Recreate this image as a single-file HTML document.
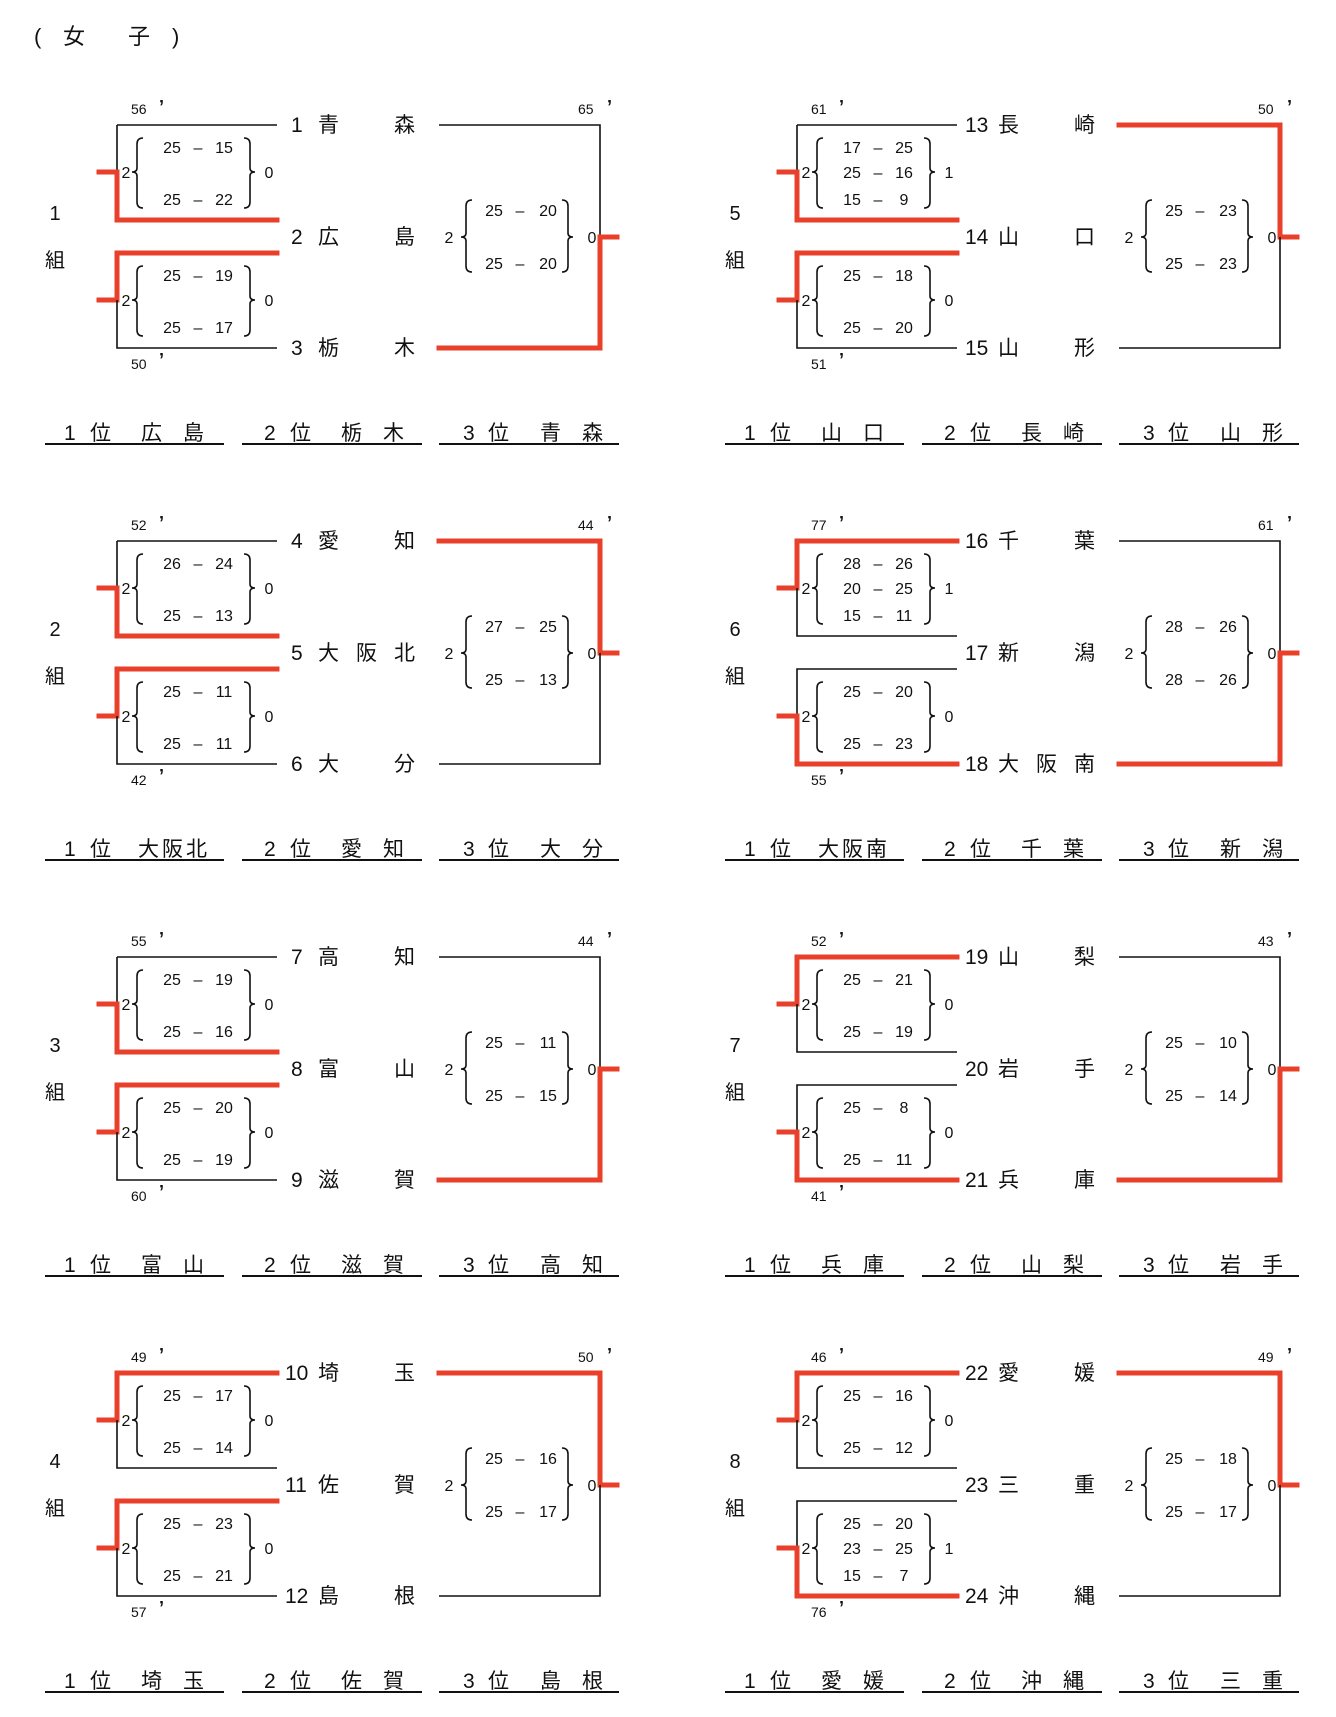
<!DOCTYPE html>
<html><head><meta charset="utf-8">
<style>
html,body{margin:0;padding:0;background:#fff;}
svg{display:block;}
text{font-family:"Liberation Sans","Noto Sans CJK JP",sans-serif;fill:#111;}
.k{stroke:#111;stroke-width:1.6;fill:none;}
.r{stroke:#e8402a;stroke-width:5;fill:none;stroke-linecap:square;}
.b{stroke:#111;stroke-width:1.6;fill:none;}
.n{font-size:21px;}
.s{font-size:16px;}
.t{font-size:14px;}
.a{font-size:18px;font-weight:bold;}
.g{font-size:20px;}
.u{stroke:#111;stroke-width:2;}
.q{font-size:21px;letter-spacing:21px;}
</style></head><body>
<svg width="1336" height="1717" viewBox="0 0 1336 1717" xmlns="http://www.w3.org/2000/svg">
<text x="34" y="44" style="font-size:22px">(</text>
<text x="63" y="44" style="font-size:22px">女</text>
<text x="128" y="44" style="font-size:22px">子</text>
<text x="172" y="44" style="font-size:22px">)</text>

<defs>
<g id="br2">
<path class="b" d="M143,138 Q137,138 137,144 L137,168 Q137,172 132,172 Q137,172 137,176 L137,202 Q137,208 143,208"/>
<path class="b" d="M244,138 Q250,138 250,144 L250,168 Q250,172 255,172 Q250,172 250,176 L250,202 Q250,208 244,208"/>
</g>
<g id="br2b">
<path class="b" d="M143,266 Q137,266 137,272 L137,296 Q137,300 132,300 Q137,300 137,304 L137,330 Q137,336 143,336"/>
<path class="b" d="M244,266 Q250,266 250,272 L250,296 Q250,300 255,300 Q250,300 250,304 L250,330 Q250,336 244,336"/>
</g>
<g id="brf">
<path class="b" d="M472,200 Q466,200 466,206 L466,233 Q466,237 461,237 Q466,237 466,241 L466,266 Q466,272 472,272"/>
<path class="b" d="M562,200 Q568,200 568,206 L568,233 Q568,237 573,237 Q568,237 568,241 L568,266 Q568,272 562,272"/>
</g>
<g id="base">
<use href="#br2"/><use href="#br2b"/><use href="#brf"/>
<path class="r" d="M99,172 H117"/><path class="r" d="M99,300 H117"/><path class="r" d="M600,237 H617"/>
<line class="u" x1="45" y1="444" x2="224" y2="444"/>
<line class="u" x1="242" y1="444" x2="422" y2="444"/>
<line class="u" x1="439" y1="444" x2="619" y2="444"/>
<text class="s" x="126" y="178" text-anchor="middle">2</text>
<text class="s" x="126" y="306" text-anchor="middle">2</text>
<text class="s" x="449" y="243" text-anchor="middle">2</text>
<text class="s" x="592" y="243" text-anchor="middle">0</text>
<text class="s" x="198" y="153" text-anchor="middle">–</text>
<text class="s" x="198" y="205" text-anchor="middle">–</text>
<text class="s" x="198" y="281" text-anchor="middle">–</text>
<text class="s" x="198" y="333" text-anchor="middle">–</text>
<text class="s" x="520" y="216" text-anchor="middle">–</text>
<text class="s" x="520" y="269" text-anchor="middle">–</text>
<text class="g" x="55" y="267" text-anchor="middle">組</text>
<text class="n" x="64" y="440">1</text><text class="n" x="90" y="440">位</text>
<text class="n" x="264" y="440">2</text><text class="n" x="290" y="440">位</text>
<text class="n" x="463" y="440">3</text><text class="n" x="488" y="440">位</text>
<text class="a" x="159" y="113">’</text><text class="a" x="159" y="366">’</text><text class="a" x="607" y="113">’</text>
</g>
</defs>

<!-- Block 1 -->
<g>
<use href="#base"/>
<text class="g" x="55" y="220" text-anchor="middle">1</text>
<path class="k" d="M117,125 H277"/><path class="k" d="M117,125 V172"/>
<path class="r" d="M117,172 V220 H277"/>
<path class="r" d="M277,253 H117 V300"/>
<path class="k" d="M117,300 V348 H277"/>
<path class="k" d="M439,125 H600 V237"/><path class="r" d="M600,237 V348 H439"/>
<text class="t" x="131" y="114">56</text><text class="t" x="131" y="369">50</text><text class="t" x="578" y="114">65</text>
<text class="n" x="291" y="132">1</text><text class="n" x="318" y="132" letter-spacing="55">青森</text>
<text class="n" x="291" y="244">2</text><text class="n" x="318" y="244" letter-spacing="55">広島</text>
<text class="n" x="291" y="355">3</text><text class="n" x="318" y="355" letter-spacing="55">栃木</text>
<text class="s" x="172" y="153" text-anchor="middle">25</text><text class="s" x="224" y="153" text-anchor="middle">15</text>
<text class="s" x="172" y="205" text-anchor="middle">25</text><text class="s" x="224" y="205" text-anchor="middle">22</text>
<text class="s" x="269" y="178" text-anchor="middle">0</text>
<text class="s" x="269" y="306" text-anchor="middle">0</text>
<text class="s" x="172" y="281" text-anchor="middle">25</text><text class="s" x="224" y="281" text-anchor="middle">19</text>
<text class="s" x="172" y="333" text-anchor="middle">25</text><text class="s" x="224" y="333" text-anchor="middle">17</text>
<text class="s" x="494" y="216" text-anchor="middle">25</text><text class="s" x="548" y="216" text-anchor="middle">20</text>
<text class="s" x="494" y="269" text-anchor="middle">25</text><text class="s" x="548" y="269" text-anchor="middle">20</text>
<text class="q" x="141" y="440">広島</text>
<text class="q" x="341" y="440">栃木</text>
<text class="q" x="540" y="440">青森</text>
</g>

<!-- Block 2 -->
<g transform="translate(0,416)">
<use href="#base"/>
<text class="g" x="55" y="220" text-anchor="middle">2</text>
<path class="k" d="M117,125 H277"/><path class="k" d="M117,125 V172"/>
<path class="r" d="M117,172 V220 H277"/>
<path class="r" d="M277,253 H117 V300"/>
<path class="k" d="M117,300 V348 H277"/>
<path class="r" d="M439,125 H600 V237"/><path class="k" d="M600,237 V348 H439"/>
<text class="t" x="131" y="114">52</text><text class="t" x="131" y="369">42</text><text class="t" x="578" y="114">44</text>
<text class="n" x="291" y="132">4</text><text class="n" x="318" y="132" letter-spacing="55">愛知</text>
<text class="n" x="291" y="244">5</text><text class="n" x="318" y="244" letter-spacing="17">大阪北</text>
<text class="n" x="291" y="355">6</text><text class="n" x="318" y="355" letter-spacing="55">大分</text>
<text class="s" x="172" y="153" text-anchor="middle">26</text><text class="s" x="224" y="153" text-anchor="middle">24</text>
<text class="s" x="172" y="205" text-anchor="middle">25</text><text class="s" x="224" y="205" text-anchor="middle">13</text>
<text class="s" x="269" y="178" text-anchor="middle">0</text>
<text class="s" x="269" y="306" text-anchor="middle">0</text>
<text class="s" x="172" y="281" text-anchor="middle">25</text><text class="s" x="224" y="281" text-anchor="middle">11</text>
<text class="s" x="172" y="333" text-anchor="middle">25</text><text class="s" x="224" y="333" text-anchor="middle">11</text>
<text class="s" x="494" y="216" text-anchor="middle">27</text><text class="s" x="548" y="216" text-anchor="middle">25</text>
<text class="s" x="494" y="269" text-anchor="middle">25</text><text class="s" x="548" y="269" text-anchor="middle">13</text>
<text class="n" x="138" y="440" letter-spacing="3">大阪北</text>
<text class="q" x="341" y="440">愛知</text>
<text class="q" x="540" y="440">大分</text>
</g>

<!-- Block 3 -->
<g transform="translate(0,832)">
<use href="#base"/>
<text class="g" x="55" y="220" text-anchor="middle">3</text>
<path class="k" d="M117,125 H277"/><path class="k" d="M117,125 V172"/>
<path class="r" d="M117,172 V220 H277"/>
<path class="r" d="M277,253 H117 V300"/>
<path class="k" d="M117,300 V348 H277"/>
<path class="k" d="M439,125 H600 V237"/><path class="r" d="M600,237 V348 H439"/>
<text class="t" x="131" y="114">55</text><text class="t" x="131" y="369">60</text><text class="t" x="578" y="114">44</text>
<text class="n" x="291" y="132">7</text><text class="n" x="318" y="132" letter-spacing="55">高知</text>
<text class="n" x="291" y="244">8</text><text class="n" x="318" y="244" letter-spacing="55">富山</text>
<text class="n" x="291" y="355">9</text><text class="n" x="318" y="355" letter-spacing="55">滋賀</text>
<text class="s" x="172" y="153" text-anchor="middle">25</text><text class="s" x="224" y="153" text-anchor="middle">19</text>
<text class="s" x="172" y="205" text-anchor="middle">25</text><text class="s" x="224" y="205" text-anchor="middle">16</text>
<text class="s" x="269" y="178" text-anchor="middle">0</text>
<text class="s" x="269" y="306" text-anchor="middle">0</text>
<text class="s" x="172" y="281" text-anchor="middle">25</text><text class="s" x="224" y="281" text-anchor="middle">20</text>
<text class="s" x="172" y="333" text-anchor="middle">25</text><text class="s" x="224" y="333" text-anchor="middle">19</text>
<text class="s" x="494" y="216" text-anchor="middle">25</text><text class="s" x="548" y="216" text-anchor="middle">11</text>
<text class="s" x="494" y="269" text-anchor="middle">25</text><text class="s" x="548" y="269" text-anchor="middle">15</text>
<text class="q" x="141" y="440">富山</text>
<text class="q" x="341" y="440">滋賀</text>
<text class="q" x="540" y="440">高知</text>
</g>

<!-- Block 4 -->
<g transform="translate(0,1248)">
<use href="#base"/>
<text class="g" x="55" y="220" text-anchor="middle">4</text>
<path class="r" d="M277,125 H117 V172"/>
<path class="k" d="M117,172 V220 H277"/>
<path class="r" d="M277,253 H117 V300"/>
<path class="k" d="M117,300 V348 H277"/>
<path class="r" d="M439,125 H600 V237"/><path class="k" d="M600,237 V348 H439"/>
<text class="t" x="131" y="114">49</text><text class="t" x="131" y="369">57</text><text class="t" x="578" y="114">50</text>
<text class="n" x="285" y="132">10</text><text class="n" x="318" y="132" letter-spacing="55">埼玉</text>
<text class="n" x="285" y="244">11</text><text class="n" x="318" y="244" letter-spacing="55">佐賀</text>
<text class="n" x="285" y="355">12</text><text class="n" x="318" y="355" letter-spacing="55">島根</text>
<text class="s" x="172" y="153" text-anchor="middle">25</text><text class="s" x="224" y="153" text-anchor="middle">17</text>
<text class="s" x="172" y="205" text-anchor="middle">25</text><text class="s" x="224" y="205" text-anchor="middle">14</text>
<text class="s" x="269" y="178" text-anchor="middle">0</text>
<text class="s" x="269" y="306" text-anchor="middle">0</text>
<text class="s" x="172" y="281" text-anchor="middle">25</text><text class="s" x="224" y="281" text-anchor="middle">23</text>
<text class="s" x="172" y="333" text-anchor="middle">25</text><text class="s" x="224" y="333" text-anchor="middle">21</text>
<text class="s" x="494" y="216" text-anchor="middle">25</text><text class="s" x="548" y="216" text-anchor="middle">16</text>
<text class="s" x="494" y="269" text-anchor="middle">25</text><text class="s" x="548" y="269" text-anchor="middle">17</text>
<text class="q" x="141" y="440">埼玉</text>
<text class="q" x="341" y="440">佐賀</text>
<text class="q" x="540" y="440">島根</text>
</g>

<!-- Block 5 -->
<g transform="translate(680,0)">
<use href="#base"/>
<text class="g" x="55" y="220" text-anchor="middle">5</text>
<path class="k" d="M117,125 H277"/><path class="k" d="M117,125 V172"/>
<path class="r" d="M117,172 V220 H277"/>
<path class="r" d="M277,253 H117 V300"/>
<path class="k" d="M117,300 V348 H277"/>
<path class="r" d="M439,125 H600 V237"/><path class="k" d="M600,237 V348 H439"/>
<text class="t" x="131" y="114">61</text><text class="t" x="131" y="369">51</text><text class="t" x="578" y="114">50</text>
<text class="n" x="285" y="132">13</text><text class="n" x="318" y="132" letter-spacing="55">長崎</text>
<text class="n" x="285" y="244">14</text><text class="n" x="318" y="244" letter-spacing="55">山口</text>
<text class="n" x="285" y="355">15</text><text class="n" x="318" y="355" letter-spacing="55">山形</text>
<text class="s" x="172" y="153" text-anchor="middle">17</text><text class="s" x="224" y="153" text-anchor="middle">25</text>
<text class="s" x="172" y="178" text-anchor="middle">25</text><text class="s" x="198" y="178" text-anchor="middle">–</text><text class="s" x="224" y="178" text-anchor="middle">16</text>
<text class="s" x="172" y="205" text-anchor="middle">15</text><text class="s" x="224" y="205" text-anchor="middle">9</text>
<text class="s" x="269" y="178" text-anchor="middle">1</text>
<text class="s" x="269" y="306" text-anchor="middle">0</text>
<text class="s" x="172" y="281" text-anchor="middle">25</text><text class="s" x="224" y="281" text-anchor="middle">18</text>
<text class="s" x="172" y="333" text-anchor="middle">25</text><text class="s" x="224" y="333" text-anchor="middle">20</text>
<text class="s" x="494" y="216" text-anchor="middle">25</text><text class="s" x="548" y="216" text-anchor="middle">23</text>
<text class="s" x="494" y="269" text-anchor="middle">25</text><text class="s" x="548" y="269" text-anchor="middle">23</text>
<text class="q" x="141" y="440">山口</text>
<text class="q" x="341" y="440">長崎</text>
<text class="q" x="540" y="440">山形</text>
</g>

<!-- Block 6 -->
<g transform="translate(680,416)">
<use href="#base"/>
<text class="g" x="55" y="220" text-anchor="middle">6</text>
<path class="r" d="M277,125 H117 V172"/>
<path class="k" d="M117,172 V220 H277"/>
<path class="k" d="M277,253 H117 V300"/>
<path class="r" d="M117,300 V348 H277"/>
<path class="k" d="M439,125 H600 V237"/><path class="r" d="M600,237 V348 H439"/>
<text class="t" x="131" y="114">77</text><text class="t" x="131" y="369">55</text><text class="t" x="578" y="114">61</text>
<text class="n" x="285" y="132">16</text><text class="n" x="318" y="132" letter-spacing="55">千葉</text>
<text class="n" x="285" y="244">17</text><text class="n" x="318" y="244" letter-spacing="55">新潟</text>
<text class="n" x="285" y="355">18</text><text class="n" x="318" y="355" letter-spacing="17">大阪南</text>
<text class="s" x="172" y="153" text-anchor="middle">28</text><text class="s" x="224" y="153" text-anchor="middle">26</text>
<text class="s" x="172" y="178" text-anchor="middle">20</text><text class="s" x="198" y="178" text-anchor="middle">–</text><text class="s" x="224" y="178" text-anchor="middle">25</text>
<text class="s" x="172" y="205" text-anchor="middle">15</text><text class="s" x="224" y="205" text-anchor="middle">11</text>
<text class="s" x="269" y="178" text-anchor="middle">1</text>
<text class="s" x="269" y="306" text-anchor="middle">0</text>
<text class="s" x="172" y="281" text-anchor="middle">25</text><text class="s" x="224" y="281" text-anchor="middle">20</text>
<text class="s" x="172" y="333" text-anchor="middle">25</text><text class="s" x="224" y="333" text-anchor="middle">23</text>
<text class="s" x="494" y="216" text-anchor="middle">28</text><text class="s" x="548" y="216" text-anchor="middle">26</text>
<text class="s" x="494" y="269" text-anchor="middle">28</text><text class="s" x="548" y="269" text-anchor="middle">26</text>
<text class="n" x="138" y="440" letter-spacing="3">大阪南</text>
<text class="q" x="341" y="440">千葉</text>
<text class="q" x="540" y="440">新潟</text>
</g>

<!-- Block 7 -->
<g transform="translate(680,832)">
<use href="#base"/>
<text class="g" x="55" y="220" text-anchor="middle">7</text>
<path class="r" d="M277,125 H117 V172"/>
<path class="k" d="M117,172 V220 H277"/>
<path class="k" d="M277,253 H117 V300"/>
<path class="r" d="M117,300 V348 H277"/>
<path class="k" d="M439,125 H600 V237"/><path class="r" d="M600,237 V348 H439"/>
<text class="t" x="131" y="114">52</text><text class="t" x="131" y="369">41</text><text class="t" x="578" y="114">43</text>
<text class="n" x="285" y="132">19</text><text class="n" x="318" y="132" letter-spacing="55">山梨</text>
<text class="n" x="285" y="244">20</text><text class="n" x="318" y="244" letter-spacing="55">岩手</text>
<text class="n" x="285" y="355">21</text><text class="n" x="318" y="355" letter-spacing="55">兵庫</text>
<text class="s" x="172" y="153" text-anchor="middle">25</text><text class="s" x="224" y="153" text-anchor="middle">21</text>
<text class="s" x="172" y="205" text-anchor="middle">25</text><text class="s" x="224" y="205" text-anchor="middle">19</text>
<text class="s" x="269" y="178" text-anchor="middle">0</text>
<text class="s" x="269" y="306" text-anchor="middle">0</text>
<text class="s" x="172" y="281" text-anchor="middle">25</text><text class="s" x="224" y="281" text-anchor="middle">8</text>
<text class="s" x="172" y="333" text-anchor="middle">25</text><text class="s" x="224" y="333" text-anchor="middle">11</text>
<text class="s" x="494" y="216" text-anchor="middle">25</text><text class="s" x="548" y="216" text-anchor="middle">10</text>
<text class="s" x="494" y="269" text-anchor="middle">25</text><text class="s" x="548" y="269" text-anchor="middle">14</text>
<text class="q" x="141" y="440">兵庫</text>
<text class="q" x="341" y="440">山梨</text>
<text class="q" x="540" y="440">岩手</text>
</g>

<!-- Block 8 -->
<g transform="translate(680,1248)">
<use href="#base"/>
<text class="g" x="55" y="220" text-anchor="middle">8</text>
<path class="r" d="M277,125 H117 V172"/>
<path class="k" d="M117,172 V220 H277"/>
<path class="k" d="M277,253 H117 V300"/>
<path class="r" d="M117,300 V348 H277"/>
<path class="r" d="M439,125 H600 V237"/><path class="k" d="M600,237 V348 H439"/>
<text class="t" x="131" y="114">46</text><text class="t" x="131" y="369">76</text><text class="t" x="578" y="114">49</text>
<text class="n" x="285" y="132">22</text><text class="n" x="318" y="132" letter-spacing="55">愛媛</text>
<text class="n" x="285" y="244">23</text><text class="n" x="318" y="244" letter-spacing="55">三重</text>
<text class="n" x="285" y="355">24</text><text class="n" x="318" y="355" letter-spacing="55">沖縄</text>
<text class="s" x="172" y="153" text-anchor="middle">25</text><text class="s" x="224" y="153" text-anchor="middle">16</text>
<text class="s" x="172" y="205" text-anchor="middle">25</text><text class="s" x="224" y="205" text-anchor="middle">12</text>
<text class="s" x="269" y="178" text-anchor="middle">0</text>
<text class="s" x="269" y="306" text-anchor="middle">1</text>
<text class="s" x="172" y="281" text-anchor="middle">25</text><text class="s" x="224" y="281" text-anchor="middle">20</text>
<text class="s" x="172" y="306" text-anchor="middle">23</text><text class="s" x="198" y="306" text-anchor="middle">–</text><text class="s" x="224" y="306" text-anchor="middle">25</text>
<text class="s" x="172" y="333" text-anchor="middle">15</text><text class="s" x="224" y="333" text-anchor="middle">7</text>
<text class="s" x="494" y="216" text-anchor="middle">25</text><text class="s" x="548" y="216" text-anchor="middle">18</text>
<text class="s" x="494" y="269" text-anchor="middle">25</text><text class="s" x="548" y="269" text-anchor="middle">17</text>
<text class="q" x="141" y="440">愛媛</text>
<text class="q" x="341" y="440">沖縄</text>
<text class="q" x="540" y="440">三重</text>
</g>
</svg>
</body></html>
